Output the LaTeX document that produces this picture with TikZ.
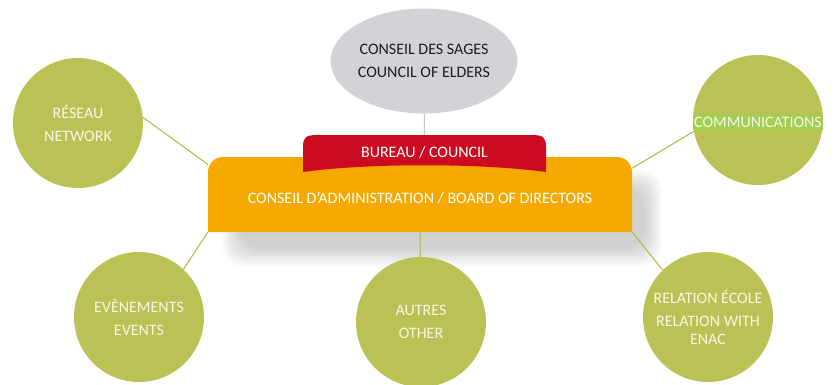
\documentclass[tikz,border=0pt]{standalone}
\usepackage{fontspec}
\setmainfont{Carlito}
\usetikzlibrary{shapes.geometric}

\definecolor{leaf}{RGB}{187,194,85}
\definecolor{wire}{RGB}{172,186,62}
\definecolor{amber}{RGB}{245,168,0}
\definecolor{crimson}{RGB}{204,10,32}
\definecolor{mist}{RGB}{210,210,215}
\definecolor{stem}{RGB}{195,195,200}
\definecolor{lime}{RGB}{160,208,82}
\definecolor{ink}{RGB}{30,30,30}
\definecolor{cream}{RGB}{250,246,228}

\begin{document}
\begin{tikzpicture}[x=1bp,y=-1bp,
  every node/.style={font=\fontsize{16bp}{23bp}\selectfont, inner sep=0pt},
  pole/.style={circle, fill=leaf, minimum size=130bp, text=cream, align=center},
  link/.style={draw=wire, line width=1bp}]
\useasboundingbox (0,0) rectangle (834,384);
\foreach \s in {0,2,...,18}
  \fill [black, opacity=0.02, rounded corners=20bp] (222+\s,170+\s) rectangle (662-\s,266-\s);
\fill [amber] (208,232) -- (208,172) arc [start angle=180, end angle=270, radius=15]
  -- (617,157) arc [start angle=270, end angle=360, radius=15] -- (632,232) -- cycle;
\fill [crimson] (303,172) -- (303,147) .. controls (303,137) and (306,135) .. (318,135)
  -- (531,135) .. controls (543,135) and (546,137) .. (546,147)
  -- (546,172) .. controls (480,163) and (368,163) .. (303,172) -- cycle;
\node [minimum width=424bp, minimum height=68bp, text=white] (board) at (420,198) {CONSEIL D'ADMINISTRATION / BOARD OF DIRECTORS};
\node [minimum width=243bp, minimum height=34bp, text=white] (bureau) at (424.5,152) {BUREAU / COUNCIL};
\node [ellipse, fill=mist, minimum width=168bp, minimum height=105bp, align=center, text=ink] (elders) at (424,61) {CONSEIL DES SAGES\\COUNCIL OF ELDERS};
\node [pole] (network) at (78,123) {RÉSEAU\\NETWORK};
\node [pole, label={[fill=lime, text=cream, inner xsep=1bp, inner ysep=2.5bp, yshift=-2.5bp]center:COMMUNICATIONS}] (comms) at (758,120) {};
\node [pole] (events) at (139,317) {EVÈNEMENTS\\EVENTS};
\node [pole] (other) at (421,322) {AUTRES\\OTHER};
\node [pole] (relation) at (708,317) {RELATION ÉCOLE\\RELATION WITH\\[-5bp]ENAC};
\draw [draw=stem, line width=1bp] (elders) -- (bureau);
\draw [link] (network.5) -- (board.171);
\draw [link] (comms.190) -- (board.8);
\draw [link] (events.47) -- (board.south west);
\draw [link] (other) -- (board.south);
\draw [link] (relation.134) -- (board.south east);
\end{tikzpicture}
\end{document}
